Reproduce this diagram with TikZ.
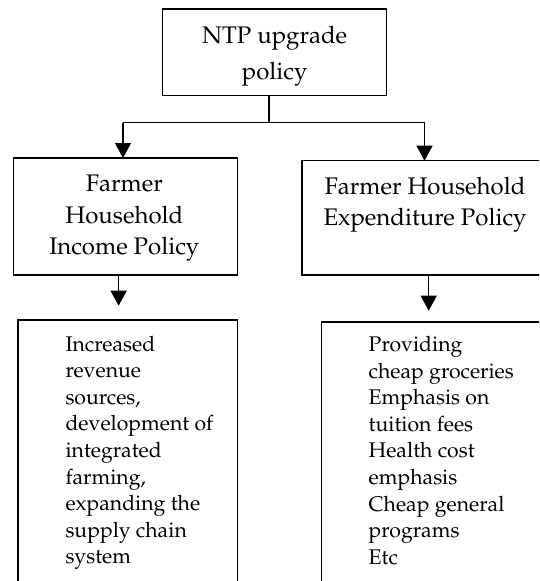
\documentclass[tikz,border=0pt]{standalone}
\usepackage[T1]{fontenc}
\usepackage{mathpazo}
\usetikzlibrary{arrows.meta,calc}
\begin{document}
\begin{tikzpicture}[x=1pt,y=-1pt,
  box/.style={draw,line width=1.4pt,inner sep=0pt,outer sep=0pt},
  conn/.style={line width=1.4pt},
  arr/.style={line width=1.4pt,-{Triangle[length=15pt,width=16pt]}},
  bigtxt/.style={inner sep=0pt,anchor=base,font=\fontsize{24}{31.6}\selectfont},
  smalltxt/.style={inner sep=0pt,anchor=base west,font=\fontsize{21.2}{26.6}\selectfont}]
\useasboundingbox (0,0) rectangle (539,581);
\clip (0,0) rectangle (539,581);
% boxes
\node[box,minimum width=224pt,minimum height=86.5pt] (top) at (274.45,52.25) {};
\node[box,minimum width=223.5pt,minimum height=117pt] (inc) at (125.5,216.5) {};
\node[box,minimum width=248pt,minimum height=114.3pt] (exp) at (425.9,217.85) {};
\node[box,minimum width=219.3pt,minimum height=280pt] (incd) at (127.55,460) {};
\node[box,minimum width=228.6pt,minimum height=278pt] (expd) at (435.7,461) {};
% texts
\node[bigtxt,font=\fontsize{24}{35.7}\selectfont] (toptxt) at (274.7,43.3) {\parbox[t]{210pt}{\centering NTP upgrade\\policy}};
\node[bigtxt] (inctxt) at (124.3,191.7) {\parbox[t]{210pt}{\centering Farmer\\Household\\Income Policy}};
\node[bigtxt] (exptxt) at (425,194) {\parbox[t]{230pt}{\centering Farmer Household\\Expenditure Policy}};
\node[smalltxt] (incdtxt) at (65.3,351) {\parbox[t]{170pt}{\raggedright Increased\\revenue\\sources,\\development of\\integrated\\farming,\\expanding the\\supply chain\\system}};
\node[smalltxt] (expdtxt) at (368.5,351.5) {\parbox[t]{170pt}{\raggedright Providing\\cheap groceries\\Emphasis on\\tuition fees\\Health cost\\emphasis\\Cheap general\\programs\\Etc}};
% connectors
\coordinate (jm) at (269,122.7);
\coordinate (jl) at (123,122.7);
\coordinate (jr) at (424.5,122.7);
\coordinate (al) at (118.6,305.7);
\coordinate (ar) at (428.7,310.7);
\draw[conn] (top.south -| jm) -- (jm);
\draw[conn] (jl) -- (jr);
\draw[arr] (jl) -- (jl |- inc.north);
\draw[arr] (jr) -- (jr |- exp.north);
\draw[arr] (inc.south -| al) -- (al);
\draw[arr] (exp.south -| ar) -- (ar);
\end{tikzpicture}
\end{document}
